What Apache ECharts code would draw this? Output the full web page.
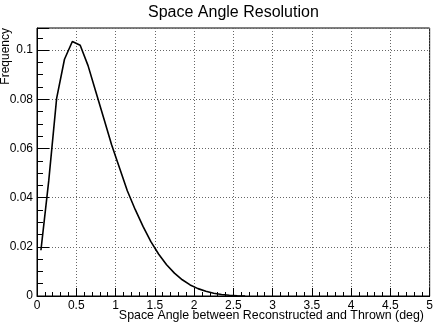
<!DOCTYPE html>
<html>
<head>
<meta charset="utf-8">
<script src="https://cdn.jsdelivr.net/npm/echarts@6/dist/echarts.min.js"></script>
<style>
  html, body { margin: 0; padding: 0; background: #fff; }
  #chart { width: 436px; height: 326px; }
</style>
</head>
<body>
<div id="chart"></div>
<script>
// bin centres (deg) and the frequency
const binCenters = [0.05, 0.15, 0.25, 0.35, 0.45, 0.55, 0.65, 0.75, 0.85, 0.95,
  1.05, 1.15, 1.25, 1.35, 1.45, 1.55, 1.65, 1.75, 1.85, 1.95,
  2.05, 2.15, 2.25, 2.35, 2.45, 2.55, 2.65]
const frequency = [0.0186, 0.047, 0.0804, 0.0963, 0.1035, 0.1020, 0.0937, 0.0830, 0.0723, 0.0615,
  0.0522, 0.0428, 0.0352, 0.0283, 0.0221, 0.0170, 0.0127, 0.0093, 0.0066, 0.0045,
  0.0030, 0.0019, 0.0011, 0.0006, 0.0003, 0.0001, 0.0]

const titleText = 'Space Angle Resolution'
const xTitle = 'Space Angle between Reconstructed and Thrown (deg)'
const yTitle = 'Frequency'

const font = 'Liberation Sans'
const gridLine = { show: true, lineStyle: { color: '#666', type: [1, 2], width: 1 } }

const chart = echarts.init(document.getElementById('chart'))
chart.setOption({
  animation: false,
  textStyle: { fontFamily: font },
  title: {
    text: titleText,
    left: 143, top: 0,
    textStyle: { fontFamily: font, fontSize: 16, fontWeight: 'normal', color: '#000' }
  },
  grid: {
    left: 37, right: 3, top: 28, bottom: 30,
    show: true, borderColor: '#000', borderWidth: 1
  },
  xAxis: {
    type: 'value',
    min: 0, max: 5, interval: 0.5,
    axisLine: { show: true, onZero: false, lineStyle: { color: '#000', width: 1 } },
    axisTick: { show: true, inside: true, length: 8, lineStyle: { color: '#000' } },
    minorTick: { show: true, splitNumber: 5, length: 4, lineStyle: { color: '#000' } },
    axisLabel: { color: '#000', fontSize: 12, margin: 4, fontFamily: font },
    splitLine: gridLine
  },
  yAxis: {
    type: 'value',
    min: 0, max: 0.109, interval: 0.02,
    axisLine: { show: true, onZero: false, lineStyle: { color: '#000', width: 1 } },
    axisTick: { show: true, inside: true, length: 12, lineStyle: { color: '#000' } },
    minorTick: { show: true, splitNumber: 4, length: 6, lineStyle: { color: '#000' } },
    axisLabel: { color: '#000', fontSize: 12, margin: 4, fontFamily: font, showMaxLabel: false },
    splitLine: gridLine
  },
  graphic: [
    {
      type: 'text', right: 12, top: 310,
      style: { text: xTitle, fontFamily: font, fontSize: 12.4, fill: '#000' }
    },
    {
      type: 'text', x: 0, y: 28, rotation: Math.PI / 2,
      style: { text: yTitle, fontFamily: font, fontSize: 12, fill: '#000', align: 'right', verticalAlign: 'top' }
    }
  ],
  series: [{
    type: 'line',
    data: binCenters.map((x, i) => [x, frequency[i]]),
    showSymbol: false,
    lineStyle: { color: '#000', width: 1.6 }
  }]
})
</script>
</body>
</html>
